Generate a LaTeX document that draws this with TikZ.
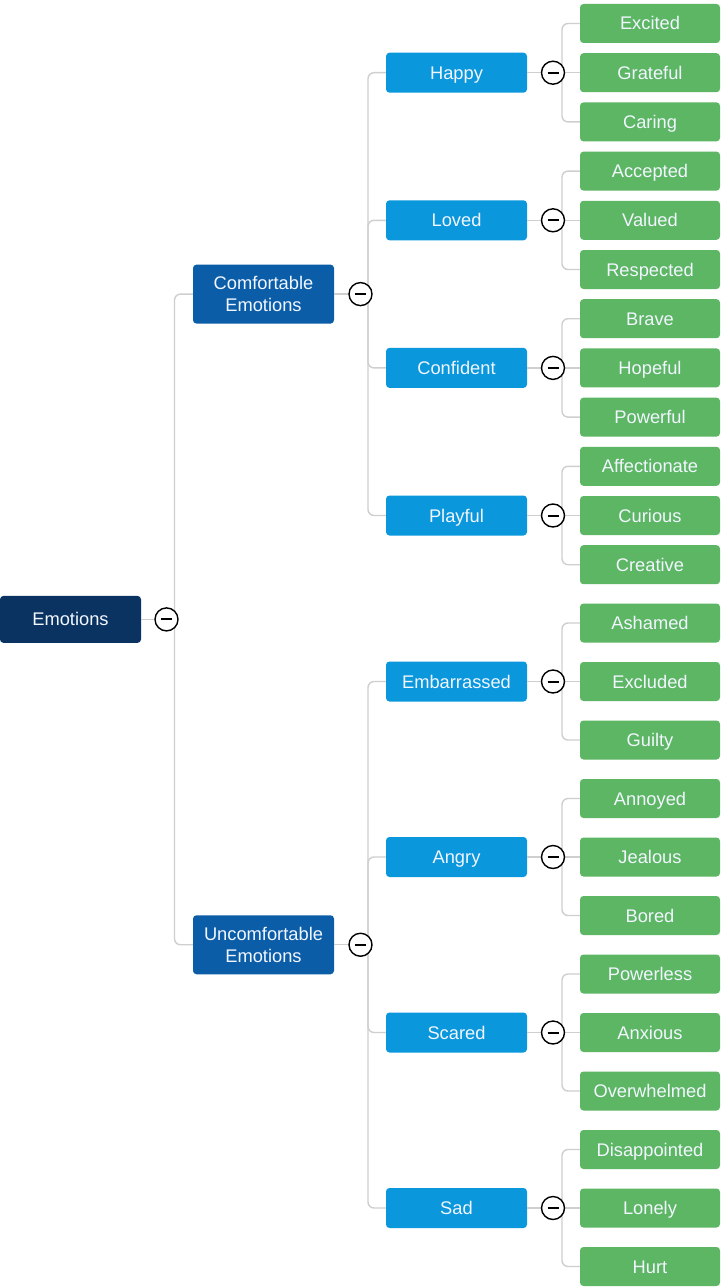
\documentclass[tikz,border=0pt]{standalone}
\usepackage{fontspec}
\setmainfont{Liberation Sans}
\definecolor{cRoot}{HTML}{0B3361}
\definecolor{cOne}{HTML}{0B5DA8}
\definecolor{cTwo}{HTML}{0A97DC}
\definecolor{cLeaf}{HTML}{5CB663}
\definecolor{cLine}{HTML}{CFCFCF}
\definecolor{cText}{HTML}{F2F6FF}
\begin{document}
\begin{tikzpicture}[x=1pt,y=-1pt,
  box/.style={rounded corners=3.5pt, minimum width=141pt, text=cText, inner sep=0pt, align=center, font=\fontsize{18.3}{22}\selectfont},
  oneline/.style={text height=13pt, text depth=0pt},
  rootbox/.style={box, oneline, fill=cRoot, minimum height=47pt},
  onebox/.style={box, fill=cOne, minimum height=59pt},
  twobox/.style={box, oneline, fill=cTwo, minimum height=40pt},
  leafbox/.style={box, oneline, fill=cLeaf, minimum height=39pt, minimum width=140pt},
  conn/.style={draw=cLine, line width=1.4pt, rounded corners=6pt},
  tog/.style={circle, draw=black, line width=1.4pt, fill=white, minimum size=23pt, inner sep=0pt,
    path picture={\draw[line width=2pt] ([xshift=-5.5pt]path picture bounding box.center) -- ([xshift=5.5pt]path picture bounding box.center);}}
]
\useasboundingbox[fill=white] (0,0) rectangle (720,1287);

% root and level 1
\node[rootbox] (root) at (70.5,619.4) {Emotions};
\node[onebox] (com) at (263.5,294.1) {Comfortable\\Emotions};
\node[onebox] (unc) at (263.5,944.75) {Uncomfortable\\Emotions};
\coordinate (root-t) at (174.5,619.4);
\coordinate (com-t) at (368,294.1);
\coordinate (unc-t) at (368,944.75);

\draw[conn] (root.east) -- (root-t);
\draw[conn] (com.west) -| (root-t);
\draw[conn] (unc.west) -| (root-t);
\draw[conn] (com.east) -- (com-t);
\draw[conn] (unc.east) -- (unc-t);

\foreach \n/\p/\t/\y/\d/\a/\b/\c in {
  happy/com/Happy/72.7/49.2/Excited/Grateful/Caring,
  loved/com/Loved/220.3/49.2/Accepted/Valued/Respected,
  confident/com/Confident/367.9/49.2/Brave/Hopeful/Powerful,
  playful/com/Playful/515.5/49.2/Affectionate/Curious/Creative,
  embarrassed/unc/Embarrassed/681.5/58.5/Ashamed/Excluded/Guilty,
  angry/unc/Angry/857/58.5/Annoyed/Jealous/Bored,
  scared/unc/Scared/1032.5/58.5/Powerless/Anxious/Overwhelmed,
  sad/unc/Sad/1208/58.5/Disappointed/Lonely/Hurt}{
  \node[twobox] (\n) at (456.5,\y) {\t};
  \node[leafbox] (\n-a) at (650,{\y-\d}) {\a};
  \node[leafbox] (\n-b) at (650,\y) {\b};
  \node[leafbox] (\n-c) at (650,{\y+\d}) {\c};
  \coordinate (\n-t) at (562,\y);
  \draw[conn] (\n.west) -| (\p-t);
  \draw[conn] (\n.east) -- (\n-t);
  \draw[conn] (\n-a.west) -| (\n-t);
  \draw[conn] (\n-b.west) -- (\n-t);
  \draw[conn] (\n-c.west) -| (\n-t);
  \node[tog] (\n-tog) at (553,\y) {};
}

\node[tog] (root-tog) at (166.5,619.4) {};
\node[tog] (com-tog) at (360.5,294.1) {};
\node[tog] (unc-tog) at (360.5,944.75) {};
\end{tikzpicture}
\end{document}
